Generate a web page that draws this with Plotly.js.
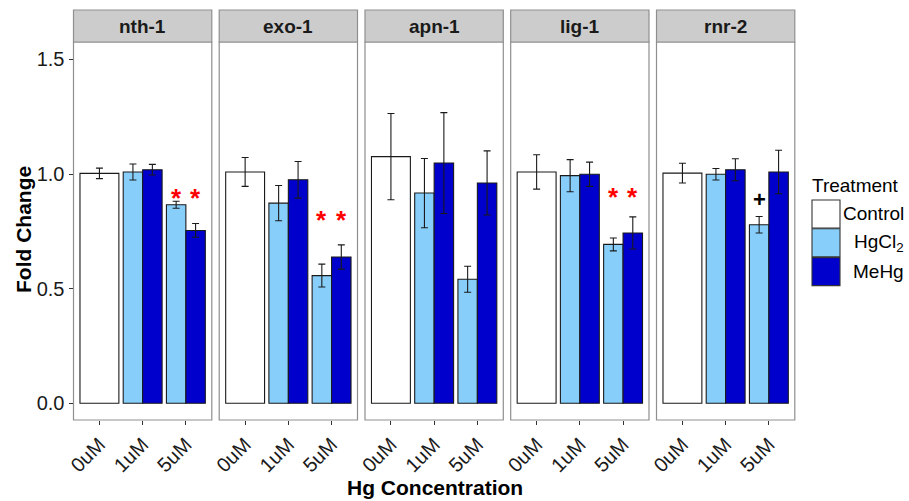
<!DOCTYPE html>
<html>
<head>
<meta charset="utf-8">
<script src="https://cdn.plot.ly/plotly-3.0.1.min.js"></script>
<style>html,body{margin:0;padding:0;background:#fff;}#chart{width:909px;height:501px;}</style>
</head>
<body>
<div id="chart"></div>
<script>
// ---- data ----
var genes = ['nth-1', 'exo-1', 'apn-1', 'lig-1', 'rnr-2'];
var concentrations = ['0uM', '1uM', '5uM'];
var treatedConcentrations = ['1uM', '5uM'];
var treatments = ['Control', 'HgCl<sub>2</sub>', 'MeHg'];

var controlMean = [1.003, 1.009, 1.076, 1.009, 1.004];
var controlErr  = [0.023, 0.063, 0.188, 0.075, 0.043];

var hgcl2Mean = [[1.009, 0.866], [0.873, 0.557], [0.917, 0.541], [0.993, 0.693], [0.999, 0.779]];
var hgcl2Err  = [[0.035, 0.015], [0.077, 0.050], [0.151, 0.057], [0.070, 0.028], [0.025, 0.036]];

var mehgMean = [[1.019, 0.754], [0.975, 0.638], [1.048, 0.961], [0.999, 0.743], [1.019, 1.009]];
var mehgErr  = [[0.023, 0.030], [0.080, 0.053], [0.220, 0.140], [0.053, 0.070], [0.048, 0.095]];

// significance marks: gene index, concentration, treatment (0 HgCl2, 1 MeHg), symbol, y
var sigGene      = [0, 0, 1, 1, 3, 3, 4];
var sigConc      = ['5uM', '5uM', '5uM', '5uM', '5uM', '5uM', '5uM'];
var sigTreatment = [0, 1, 0, 1, 0, 1, 0];
var sigSymbol    = ['*', '*', '*', '*', '*', '*', '+'];
var sigY         = [0.918, 0.918, 0.821, 0.821, 0.920, 0.920, 0.888];

var yTicks = [0, 0.5, 1.0, 1.5];
var yTickText = ['0.0', '0.5', '1.0', '1.5'];

// ---- styles / layout ----
var W = 909, H = 501;
var panelLeft = [73.5, 219.2, 365, 510.7, 656.5];
var panelWidth = 138.3;
var plotTop = 42, plotBottom = 420, stripTop = 10;
var colors = {control: '#FFFFFF', hgcl2: '#87CEFA', mehg: '#0000CD'};
var FONT = 'Liberation Sans, Arial, Helvetica, sans-serif';
var barLine = {color: '#1a1a1a', width: 1.1};
function errStyle(arr) {
  return {type: 'data', array: arr, visible: true, color: '#1a1a1a', thickness: 1.1, width: 3.5};
}
function px2x(p) { return p / W; }
function px2y(p) { return 1 - p / H; }

var traces = [];
var layout = {
  width: W, height: H,
  margin: {l: 0, r: 0, t: 0, b: 0},
  paper_bgcolor: '#FFFFFF', plot_bgcolor: 'rgba(0,0,0,0)',
  barmode: 'overlay',
  showlegend: false,
  font: {family: FONT, color: '#1a1a1a'},
  shapes: [], annotations: []
};

layout.yaxis = {
  anchor: 'x', domain: [px2y(plotBottom), px2y(plotTop)],
  range: [-0.073, 1.576], tickvals: yTicks, ticktext: yTickText,
  ticks: 'outside', ticklen: 4, tickwidth: 1, tickcolor: '#333333',
  showgrid: false, zeroline: false, showline: false,
  tickfont: {family: FONT, size: 20, color: '#1a1a1a'}, fixedrange: true
};

genes.forEach(function (g, i) {
  var xa = i === 0 ? 'x' : 'x' + (i + 1);
  var key = i === 0 ? 'xaxis' : 'xaxis' + (i + 1);
  layout[key] = {
    anchor: 'y', domain: [px2x(panelLeft[i]), px2x(panelLeft[i] + panelWidth)],
    type: 'category', categoryorder: 'array', categoryarray: concentrations,
    range: [-0.6, 2.6], tickangle: -45,
    ticks: 'outside', ticklen: 4, tickwidth: 1, tickcolor: '#333333',
    showgrid: false, zeroline: false, showline: false,
    tickfont: {family: FONT, size: 20, color: '#1a1a1a'}, fixedrange: true
  };

  traces.push({
    type: 'bar', name: 'Control', x: [concentrations[0]], y: [controlMean[i]],
    xaxis: xa, yaxis: 'y', width: 0.9, offset: -0.45,
    marker: {color: colors.control, line: barLine},
    error_y: errStyle([controlErr[i]])
  });
  traces.push({
    type: 'bar', name: 'HgCl2', x: treatedConcentrations, y: hgcl2Mean[i],
    xaxis: xa, yaxis: 'y', width: 0.45, offset: -0.45,
    marker: {color: colors.hgcl2, line: barLine},
    error_y: errStyle(hgcl2Err[i])
  });
  traces.push({
    type: 'bar', name: 'MeHg', x: treatedConcentrations, y: mehgMean[i],
    xaxis: xa, yaxis: 'y', width: 0.45, offset: 0,
    marker: {color: colors.mehg, line: barLine},
    error_y: errStyle(mehgErr[i])
  });

  // panel border
  layout.shapes.push({
    type: 'rect', xref: 'paper', yref: 'paper', layer: 'below',
    x0: px2x(panelLeft[i]), x1: px2x(panelLeft[i] + panelWidth),
    y0: px2y(plotBottom), y1: px2y(plotTop),
    line: {color: '#8f8f8f', width: 1.2}, fillcolor: '#FFFFFF'
  });
  // strip
  layout.shapes.push({
    type: 'rect', xref: 'paper', yref: 'paper', layer: 'below',
    x0: px2x(panelLeft[i]), x1: px2x(panelLeft[i] + panelWidth),
    y0: px2y(plotTop), y1: px2y(stripTop),
    line: {color: '#8f8f8f', width: 1.2}, fillcolor: '#CCCCCC'
  });
  layout.annotations.push({
    xref: 'paper', yref: 'paper',
    x: px2x(panelLeft[i] + panelWidth / 2), y: px2y((plotTop + stripTop) / 2),
    text: '<b>' + g + '</b>', showarrow: false, xanchor: 'center', yanchor: 'middle',
    font: {family: FONT, size: 19, color: '#1a1a1a'}
  });
});

// significance annotations
for (var k = 0; k < sigGene.length; k++) {
  var gi = sigGene[k];
  var xref = gi === 0 ? 'x' : 'x' + (gi + 1);
  var cidx = concentrations.indexOf(sigConc[k]);
  var isStar = sigSymbol[k] === '*';
  layout.annotations.push({
    xref: xref, yref: 'y', x: cidx + (sigTreatment[k] === 0 ? -0.225 : 0.225), y: sigY[k],
    text: '<b>' + sigSymbol[k] + '</b>', showarrow: false,
    xanchor: 'center', yanchor: 'middle', yshift: isStar ? -5 : 0,
    font: {family: FONT, size: isStar ? 26 : 22, color: isStar ? '#FF0000' : '#000000'}
  });
}

// axis titles
layout.annotations.push({
  xref: 'paper', yref: 'paper', x: px2x(24), y: px2y(230),
  text: '<b>Fold Change</b>', textangle: -90, showarrow: false,
  xanchor: 'center', yanchor: 'middle', font: {family: FONT, size: 21, color: '#000000'}
});
layout.annotations.push({
  xref: 'paper', yref: 'paper', x: px2x(435), y: px2y(487),
  text: '<b>Hg Concentration</b>', showarrow: false,
  xanchor: 'center', yanchor: 'middle', font: {family: FONT, size: 21, color: '#000000'}
});

// legend (custom, matching ggplot keys)
var legendFills = [colors.control, colors.hgcl2, colors.mehg];
var keyTop = [200, 228.8, 257.6];
var keySize = 28;
layout.annotations.push({
  xref: 'paper', yref: 'paper', x: px2x(810), y: px2y(185),
  text: 'Treatment', showarrow: false, xanchor: 'left', yanchor: 'middle',
  font: {family: FONT, size: 19, color: '#000000'}
});
treatments.forEach(function (t, j) {
  layout.shapes.push({
    type: 'rect', xref: 'paper', yref: 'paper',
    x0: px2x(812), x1: px2x(812 + keySize),
    y0: px2y(keyTop[j] + keySize), y1: px2y(keyTop[j]),
    line: {color: '#333333', width: 1.1}, fillcolor: legendFills[j]
  });
  layout.annotations.push({
    xref: 'paper', yref: 'paper', x: px2x(906), y: px2y(keyTop[j] + keySize / 2),
    text: t, showarrow: false, xanchor: 'right', yanchor: 'middle',
    font: {family: FONT, size: 19, color: '#000000'}
  });
});

Plotly.newPlot('chart', traces, layout, {staticPlot: true, displayModeBar: false});
</script>
</body>
</html>
